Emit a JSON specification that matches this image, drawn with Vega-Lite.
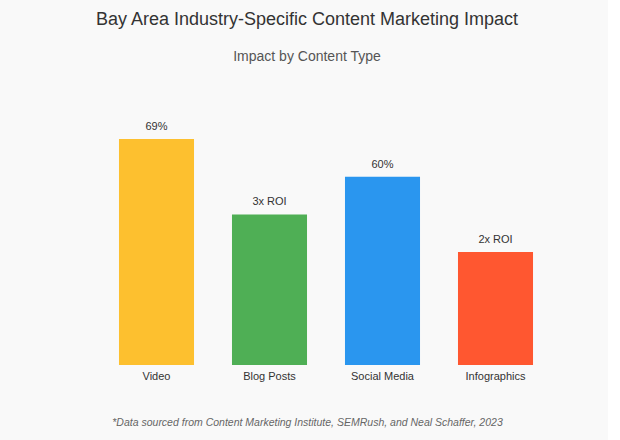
{
  "$schema": "https://vega.github.io/schema/vega-lite/v6.json",
  "autosize": {"type": "none"},
  "width": 452,
  "height": 251,
  "padding": {"left": 100, "right": 56, "top": 114, "bottom": 75},
  "background": "#f9f9f9",
  "title": {
    "text": "Bay Area Industry-Specific Content Marketing Impact",
    "subtitle": "Impact by Content Type",
    "anchor": "middle",
    "dx": -19,
    "offset": 50,
    "font": "Liberation Sans",
    "fontSize": 18,
    "fontWeight": "normal",
    "color": "#333333",
    "subtitleFont": "Liberation Sans",
    "subtitleFontSize": 14,
    "subtitleColor": "#555555",
    "subtitlePadding": 21
  },
  "data": {
    "values": [
      {"type": "Video", "value": 90, "label": "69%"},
      {"type": "Blog Posts", "value": 60, "label": "3x ROI"},
      {"type": "Social Media", "value": 75, "label": "60%"},
      {"type": "Infographics", "value": 45, "label": "2x ROI"}
    ]
  },
  "encoding": {
    "x": {
      "field": "type",
      "type": "nominal",
      "sort": null,
      "scale": {"paddingInner": 0.336, "paddingOuter": 0.168},
      "axis": {
        "title": "*Data sourced from Content Marketing Institute, SEMRush, and Neal Schaffer, 2023",
        "titleFont": "Liberation Sans",
        "titleFontStyle": "italic",
        "titleFontWeight": "normal",
        "titleFontSize": 10.5,
        "titleColor": "#666666",
        "titleX": 207,
        "titleY": 60,
        "titleBaseline": "alphabetic",
        "titleAnchor": "middle",
        "labelAngle": 0,
        "labelFont": "Liberation Sans",
        "labelFontSize": 11,
        "labelColor": "#333333",
        "labelPadding": 5,
        "domain": false,
        "ticks": false,
        "grid": false
      }
    },
    "y": {
      "field": "value",
      "type": "quantitative",
      "scale": {"domain": [0, 100]},
      "axis": null
    }
  },
  "layer": [
    {
      "mark": {"type": "bar"},
      "encoding": {
        "color": {
          "field": "type",
          "type": "nominal",
          "sort": null,
          "scale": {
            "domain": ["Video", "Blog Posts", "Social Media", "Infographics"],
            "range": ["#FDC02F", "#4FAF55", "#2A96EF", "#FF5730"]
          },
          "legend": null
        }
      }
    },
    {
      "mark": {
        "type": "text",
        "baseline": "bottom",
        "dy": -7,
        "font": "Liberation Sans",
        "fontSize": 11,
        "color": "#333333"
      },
      "encoding": {"text": {"field": "label"}}
    }
  ],
  "config": {"view": {"stroke": null}}
}
